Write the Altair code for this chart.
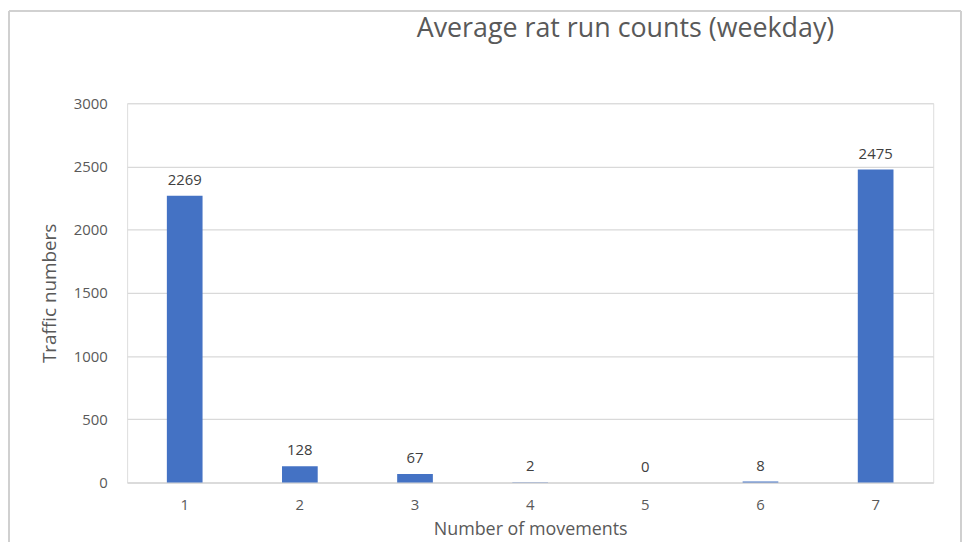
import altair as alt
import pandas as pd

categories = ["1", "2", "3", "4", "5", "6", "7"]
values = [2269, 128, 67, 2, 0, 8, 2475]

df = pd.DataFrame({"movements": categories, "count": values})

FONT = "Open Sans"
TXT = "#595959"
GRID = "#D9D9D9"

base = alt.Chart(df)

bars = base.mark_bar(color="#4472C4").encode(
    x=alt.X(
        "movements:N",
        sort=categories,
        scale=alt.Scale(paddingInner=0.69, paddingOuter=0.345),
        axis=alt.Axis(
            title="Number of movements",
            labelAngle=0,
            labelFont=FONT,
            labelFontSize=15,
            labelColor=TXT,
            labelPadding=15,
            ticks=False,
            domainColor=GRID,
            domainWidth=1.5,
            titleFont=FONT,
            titleFontSize=18,
            titleFontWeight="normal",
            titleColor=TXT,
            titleY=47,
            titleBaseline="middle",
        ),
    ),
    y=alt.Y(
        "count:Q",
        scale=alt.Scale(domain=[0, 3000]),
        axis=alt.Axis(
            title="Traffic numbers",
            values=[0, 500, 1000, 1500, 2000, 2500, 3000],
            format="d",
            labelFont=FONT,
            labelFontSize=15,
            labelColor=TXT,
            labelPadding=20,
            ticks=False,
            domain=False,
            gridColor=GRID,
            gridWidth=1.2,
            titleFont=FONT,
            titleFontSize=19,
            titleFontWeight="normal",
            titleColor=TXT,
            titleX=-78,
            titleBaseline="middle",
        ),
    ),
)

labels = base.mark_text(
    dy=-8, font=FONT, fontSize=15, color="#404040", baseline="bottom"
).encode(
    x=alt.X("movements:N", sort=categories),
    y=alt.Y("count:Q"),
    text=alt.Text("count:Q"),
)

frame_left = alt.Chart(df).mark_rule(color="#D0D0D0", strokeWidth=1.5).encode(
    x=alt.value(-119), y=alt.value(-93), y2=alt.value(470)
)
frame_right = alt.Chart(df).mark_rule(color="#D0D0D0", strokeWidth=1.5).encode(
    x=alt.value(840), y=alt.value(-93), y2=alt.value(470)
)
frame_top = alt.Chart(df).mark_rule(color="#D0D0D0", strokeWidth=1.5).encode(
    x=alt.value(-119), x2=alt.value(840), y=alt.value(-93)
)

chart = (
    alt.layer(bars, labels, frame_left, frame_right, frame_top)
    .properties(
        width=812,
        height=382,
        autosize=alt.AutoSizeParams(type="none"),
        padding={"left": 120, "top": 94, "right": 30, "bottom": 58},
        title=alt.TitleParams(
            text="Average rat run counts (weekday)",
            font=FONT,
            fontSize=27,
            fontWeight="normal",
            color=TXT,
            anchor="middle",
            frame="group",
            dx=96,
            offset=-33,
        ),
    )
    .configure_view(stroke=None)
    .configure(background="white")
)

chart.save("out.html", embed_options={"renderer": "svg", "actions": False})
